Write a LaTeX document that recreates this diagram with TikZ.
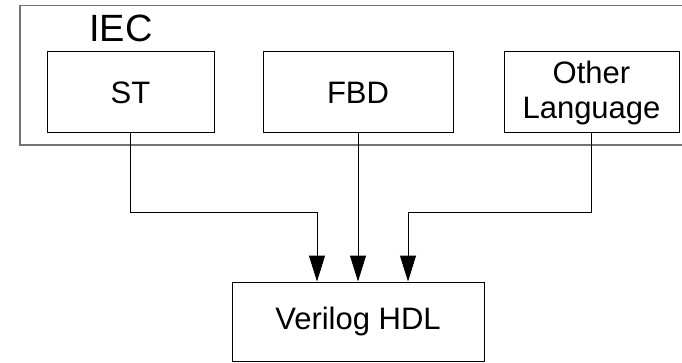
\documentclass[tikz,border=0pt]{standalone}
\usepackage{fontspec}
\setmainfont{Liberation Sans}
\usetikzlibrary{arrows.meta}
\begin{document}
\begin{tikzpicture}[x=1pt,y=-1pt,
  lang/.style={draw=black,line width=1pt,inner sep=0pt,
    font=\fontsize{31}{35}\selectfont,align=center},
  group/.style={draw=black!55,line width=1.6pt},
  arr/.style={draw=black,line width=1pt,
    -{Triangle[width=16pt,length=26pt]}},
  wire/.style={draw=black,line width=1pt}]
\useasboundingbox (0,0) rectangle (682,363);
\clip (0,0) rectangle (682,363);
\fill[white] (0,0) rectangle (682,363);

% IEC group frame (runs off the right side)
\draw[group] (20,5.5) rectangle (700,145);
\node[anchor=base west,inner sep=0pt,font=\fontsize{38}{40}\selectfont] (iec) at (89,42) {IEC};

% language boxes
\node[lang,minimum width=167pt,minimum height=81pt] (st) at (130.5,92.5) {ST};
\node[lang,minimum width=190pt,minimum height=81pt] (fbd) at (358,92.5) {FBD};
\node[lang,minimum width=175pt,minimum height=81pt] (oth) at (591.5,92.5) {Other\\Language};

% target box
\node[lang,minimum width=252pt,minimum height=79pt] (v) at (358,321.5) {Verilog HDL};

% entry points on the target box
\coordinate (vin1) at ([xshift=-41pt]v.north);
\coordinate (vin2) at (v.north);
\coordinate (vin3) at ([xshift=50pt]v.north);

% connectors
\draw[arr] (st.south) -- ++(0,79) -| (vin1);
\draw[arr] (fbd.south) -- (vin2);
\draw[arr] (oth.south) -- ++(0,79) -| (vin3);
\end{tikzpicture}
\end{document}
